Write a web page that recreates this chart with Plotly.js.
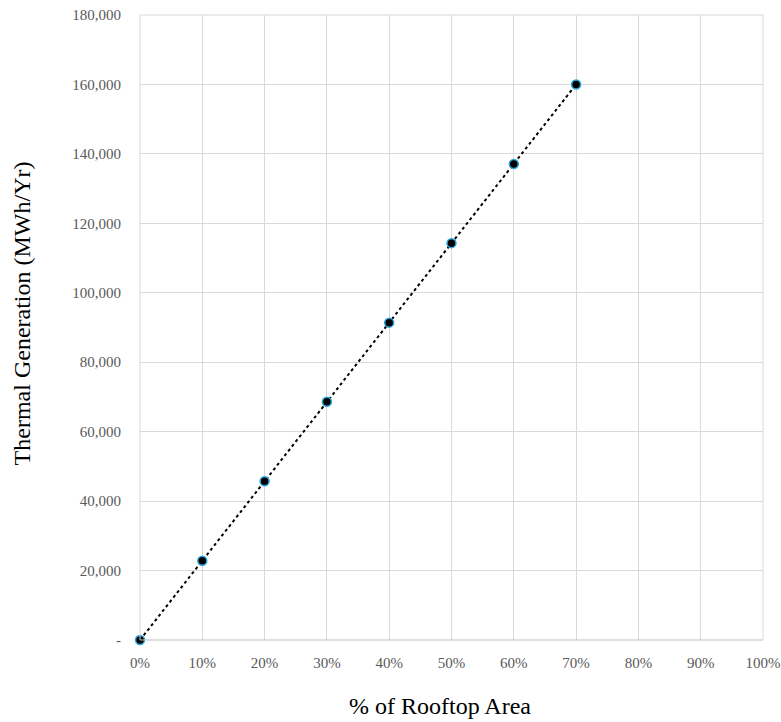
<!DOCTYPE html>
<html>
<head>
<meta charset="utf-8">
<script src="https://cdn.plot.ly/plotly-3.0.1.min.js"></script>
<style>html,body{margin:0;padding:0;background:#fff;}#chart{width:781px;height:722px;}</style>
</head>
<body>
<div id="chart"></div>
<script>
const rooftopShare = [0, 0.1, 0.2, 0.3, 0.4, 0.5, 0.6, 0.7];
const thermalGen = [0, 22800, 45700, 68600, 91400, 114300, 137100, 160000];
const xTickVals = [0, 0.1, 0.2, 0.3, 0.4, 0.5, 0.6, 0.7, 0.8, 0.9, 1.0];
const xTickText = ['0%','10%','20%','30%','40%','50%','60%','70%','80%','90%','100%'];
const yTickVals = [0, 20000, 40000, 60000, 80000, 100000, 120000, 140000, 160000, 180000];
const yTickText = ['-','20,000','40,000','60,000','80,000','100,000','120,000','140,000','160,000','180,000'];
const xTitle = '% of Rooftop Area';
const yTitle = 'Thermal Generation (MWh/Yr)';

// linear trendline (least squares) over data range
const n = rooftopShare.length;
const mx = rooftopShare.reduce((a,b)=>a+b,0)/n;
const my = thermalGen.reduce((a,b)=>a+b,0)/n;
let sxy=0, sxx=0;
for (let i=0;i<n;i++){ sxy+=(rooftopShare[i]-mx)*(thermalGen[i]-my); sxx+=(rooftopShare[i]-mx)**2; }
const slope = sxy/sxx, icpt = my - slope*mx;
const trendX = [rooftopShare[0], rooftopShare[n-1]];
const trendY = trendX.map(x=>icpt+slope*x);

const font = 'Liberation Serif, Times New Roman, serif';
const data = [
  {x: trendX, y: trendY, mode:'lines', line:{color:'#000', width:2, dash:'dot'}, hoverinfo:'skip', cliponaxis:false},
  {x: rooftopShare, y: thermalGen, mode:'markers', cliponaxis:false,
   marker:{color:'#000', size:9, line:{color:'#29a9e0', width:1.5}}}
];
const layout = {
  width:781, height:722, showlegend:false,
  paper_bgcolor:'#fff', plot_bgcolor:'#fff',
  margin:{l:140, r:18, t:15, b:82},
  font:{family:font, color:'#595959', size:15},
  xaxis:{range:[0,1], tickvals:xTickVals, ticktext:xTickText, showgrid:true, gridcolor:'#d9d9d9', gridwidth:1,
    zeroline:false, showline:false, ticks:'outside', ticklen:9, tickcolor:'rgba(0,0,0,0)',
    tickfont:{family:font, size:15, color:'#595959'}},
  yaxis:{range:[0,180000], tickvals:yTickVals, ticktext:yTickText, showgrid:true, gridcolor:'#d9d9d9', gridwidth:1,
    zeroline:false, showline:false, ticks:'outside', ticklen:15, tickcolor:'rgba(0,0,0,0)',
    tickfont:{family:font, size:15, color:'#595959'}},
  annotations:[
    {text:xTitle, xref:'paper', yref:'paper', x:0.4815, y:-0.1056, xanchor:'center', yanchor:'middle', showarrow:false,
     font:{family:font, size:24, color:'#000'}},
    {text:yTitle, xref:'paper', yref:'paper', x:-0.189, y:0.523, xanchor:'center', yanchor:'middle', showarrow:false, textangle:-90,
     font:{family:font, size:24, color:'#000'}}
  ],
  shapes:[
    {type:'line', xref:'paper', yref:'paper', x0:0, x1:1, y0:0, y1:0, line:{color:'#bfbfbf', width:1}},
    {type:'line', xref:'paper', yref:'paper', x0:0, x1:0, y0:0, y1:1, line:{color:'#d9d9d9', width:1}},
    {type:'line', xref:'paper', yref:'paper', x0:1, x1:1, y0:0, y1:1, line:{color:'#d9d9d9', width:1}},
    {type:'line', xref:'paper', yref:'paper', x0:0, x1:1, y0:1, y1:1, line:{color:'#d9d9d9', width:1}}
  ]
};
Plotly.newPlot('chart', data, layout, {displayModeBar:false, staticPlot:true});
</script>
</body>
</html>
